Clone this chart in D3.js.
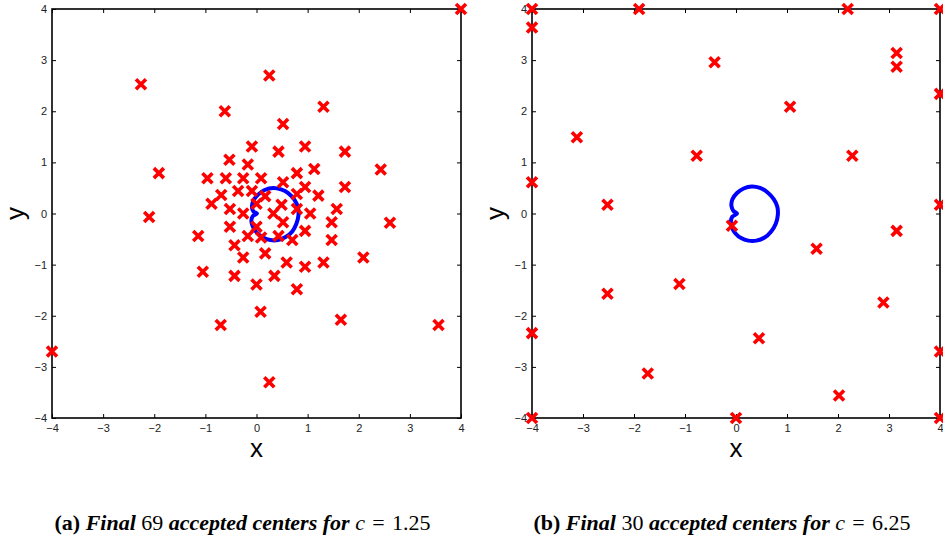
<!DOCTYPE html>
<html>
<head>
<meta charset="utf-8">
<script src="https://cdn.jsdelivr.net/npm/d3@7"></script>
<style>
  body { margin: 0; background: #fff; }
  svg { display: block; }
</style>
</head>
<body>
<script>
const w = 943;
const h = 540;

// tick values, same on both axes of both panels
const ticks = [-4, -3, -2, -1, 0, 1, 2, 3, 4];

// panel (a): accepted centers for c = 1.25
const centersA = [
  [-0.09, 1.31], [0.43, 1.21], [0.95, 1.31], [1.73, 1.21], [-0.53, 1.05], [-0.17, 0.96],
  [-0.96, 0.69], [-0.60, 0.69], [-0.26, 0.69], [0.09, 0.69], [0.79, 0.79], [1.13, 0.87],
  [0.52, 0.61], [1.73, 0.52], [0.95, 0.52], [-0.36, 0.44], [-0.09, 0.44], [-0.69, 0.36],
  [0.79, 0.38], [0.17, 0.34], [1.21, 0.35], [-0.88, 0.19], [0.00, 0.19], [0.49, 0.17],
  [-0.52, 0.09], [0.79, 0.09], [1.57, 0.09], [-0.26, 0.00], [0.33, 0.00], [1.05, 0.00],
  [0.52, -0.17], [1.47, -0.17], [-0.52, -0.26], [0.00, -0.26], [0.95, -0.34], [-1.14, -0.44],
  [-0.17, -0.44], [0.43, -0.44], [0.09, -0.47], [0.70, -0.52], [1.47, -0.52], [-0.43, -0.62],
  [0.17, -0.78], [-0.26, -0.86], [0.59, -0.96], [1.31, -0.96], [0.95, -1.04], [-1.05, -1.14],
  [-0.43, -1.22], [0.35, -1.22], [0.00, -1.39], [0.79, -1.48],
  [-2.26, 2.53], [-0.62, 2.00], [-1.91, 0.79], [-2.10, -0.07], [-0.70, -2.18], [-4.00, -2.70],
  [4.00, 4.00], [0.25, 2.70], [1.31, 2.09], [0.52, 1.75], [2.43, 0.86], [2.61, -0.18],
  [2.09, -0.86], [1.65, -2.08], [3.56, -2.18], [0.25, -3.30], [0.08, -1.92]
];

// blue contour, panel (a)
const curveA = [
  [0.33, 0.50], [0.48, 0.47], [0.62, 0.40], [0.74, 0.27], [0.81, 0.12], [0.82, -0.04],
  [0.78, -0.20], [0.70, -0.35], [0.57, -0.46], [0.42, -0.52], [0.27, -0.52], [0.13, -0.47],
  [0.01, -0.38], [-0.07, -0.26], [-0.10, -0.13], [-0.07, -0.05], [0.01, 0.00], [-0.06, 0.04],
  [-0.09, 0.13], [-0.06, 0.25], [0.03, 0.37], [0.16, 0.46]
];

// panel (b): accepted centers for c = 6.25
const centersB = [
  [-4, 4], [-4, 3.64], [-1.90, 4], [-0.42, 2.96], [2.19, 4], [4, 4],
  [3.15, 3.14], [3.15, 2.87], [1.06, 2.09], [4, 2.34], [-3.12, 1.49], [-0.77, 1.13],
  [2.28, 1.13], [-4, 0.61], [-2.52, 0.17], [4, 0.17], [-0.08, -0.24], [1.58, -0.69],
  [3.15, -0.34], [-1.11, -1.38], [-2.52, -1.57], [2.89, -1.74], [-4, -2.34], [0.45, -2.44],
  [-1.73, -3.13], [2.02, -3.56], [4, -2.70], [-4, -4], [0, -4], [4, -4]
];

// blue contour, panel (b)
const curveB = [
  [0.31, 0.53], [0.47, 0.50], [0.62, 0.41], [0.74, 0.28], [0.81, 0.13], [0.82, -0.03],
  [0.78, -0.20], [0.69, -0.35], [0.56, -0.47], [0.40, -0.53], [0.24, -0.53], [0.10, -0.48],
  [-0.01, -0.39], [-0.08, -0.27], [-0.10, -0.15], [-0.07, -0.06], [0.02, 0.00], [-0.05, 0.05],
  [-0.09, 0.15], [-0.07, 0.28], [0.02, 0.40], [0.15, 0.49]
];

const captionA = [["(a) ", "bold", "normal"], ["Final ", "bold", "italic"], ["69 ", "normal", "normal"],
  ["accepted centers for ", "bold", "italic"], ["c", "normal", "italic"], ["\u2004=\u20041.25", "normal", "normal"]];
const captionB = [["(b) ", "bold", "normal"], ["Final ", "bold", "italic"], ["30 ", "normal", "normal"],
  ["accepted centers for ", "bold", "italic"], ["c", "normal", "italic"], ["\u2004=\u20046.25", "normal", "normal"]];

const svg = d3.select("body")
  .append("svg")
  .attr("width", w)
  .attr("height", h);

const fmt = d => d < 0 ? "\u2212" + Math.abs(d) : String(d);

function drawPanel(left, right, centers, curve, caption) {
  const top = 9, bottom = 418;
  const x = d3.scaleLinear().domain([-4, 4]).range([left, right]);
  const y = d3.scaleLinear().domain([-4, 4]).range([bottom, top]);
  const g = svg.append("g");

  // axes: labelled bottom/left, mirrored ticks top/right
  const tickStyle = sel => {
    sel.select(".domain").remove();
    sel.selectAll("line").attr("stroke", "#000").attr("stroke-width", 1);
    sel.selectAll("text").attr("fill", "#222")
      .style("font-family", "'Liberation Sans', Arial, sans-serif").style("font-size", "11px");
  };
  g.append("g").attr("transform", `translate(0,${bottom})`)
    .call(d3.axisBottom(x).tickValues(ticks).tickFormat(fmt).tickSizeInner(-4).tickSizeOuter(0).tickPadding(6))
    .call(tickStyle);
  g.append("g").attr("transform", `translate(${left},0)`)
    .call(d3.axisLeft(y).tickValues(ticks).tickFormat(fmt).tickSizeInner(-4).tickSizeOuter(0).tickPadding(5))
    .call(tickStyle);
  g.append("g").attr("transform", `translate(0,${top})`)
    .call(d3.axisTop(x).tickValues(ticks).tickFormat("").tickSizeInner(-4).tickSizeOuter(0))
    .call(tickStyle);
  g.append("g").attr("transform", `translate(${right},0)`)
    .call(d3.axisRight(y).tickValues(ticks).tickFormat("").tickSizeInner(-4).tickSizeOuter(0))
    .call(tickStyle);

  g.append("rect")
    .attr("x", left).attr("y", top)
    .attr("width", right - left).attr("height", bottom - top)
    .attr("fill", "none").attr("stroke", "#000").attr("stroke-width", 1.6);

  // contour
  g.append("path")
    .datum(curve)
    .attr("d", d3.line().x(d => x(d[0])).y(d => y(d[1])).curve(d3.curveCatmullRomClosed.alpha(0.5)))
    .attr("fill", "none")
    .attr("stroke", "#0000ff")
    .attr("stroke-width", 4);

  // centers as x marks
  const s = 5;
  g.selectAll(".mark")
    .data(centers)
    .enter()
    .append("path")
    .attr("class", "mark")
    .attr("d", d => {
      const cx = x(d[0]), cy = y(d[1]);
      return `M${cx - s},${cy - s}L${cx + s},${cy + s}M${cx - s},${cy + s}L${cx + s},${cy - s}`;
    })
    .attr("stroke", "#ff0000")
    .attr("stroke-width", 3.6)
    .attr("fill", "none");

  // axis labels
  const mid = (left + right) / 2;
  g.append("text")
    .attr("x", mid).attr("y", 457)
    .attr("text-anchor", "middle")
    .style("font-family", "'Liberation Sans', Arial, sans-serif")
    .style("font-size", "26px")
    .text("x");
  g.append("text")
    .attr("transform", `translate(${left - 28},${(top + bottom) / 2}) rotate(-90)`)
    .attr("text-anchor", "middle")
    .style("font-family", "'Liberation Sans', Arial, sans-serif")
    .style("font-size", "26px")
    .text("y");

  // caption
  const cap = g.append("text")
    .attr("x", mid - 14).attr("y", 530)
    .attr("text-anchor", "middle")
    .style("font-family", "'Liberation Serif', 'Times New Roman', serif")
    .style("font-size", "22px");
  cap.selectAll("tspan")
    .data(caption)
    .enter()
    .append("tspan")
    .style("font-weight", d => d[1])
    .style("font-style", d => d[2])
    .style("white-space", "pre")
    .text(d => d[0]);
}

drawPanel(52, 461, centersA, curveA, captionA);
drawPanel(532, 940, centersB, curveB, captionB);
</script>
</body>
</html>
